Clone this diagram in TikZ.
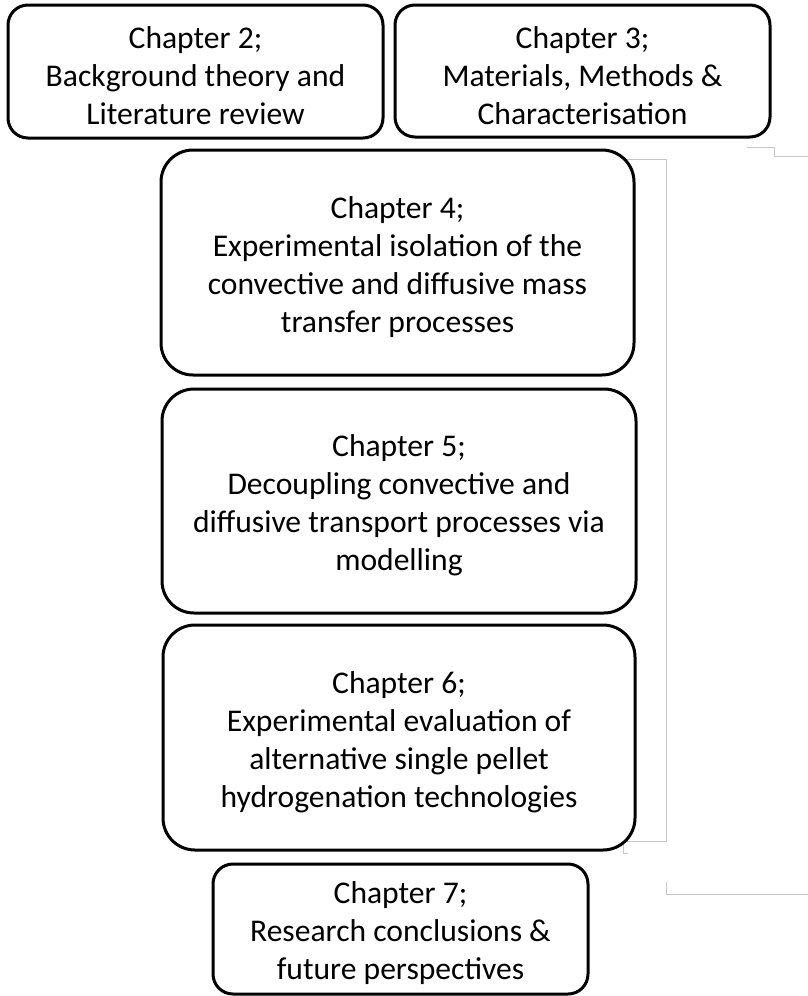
\documentclass[tikz,border=0pt]{standalone}
\usepackage{fontspec}
\setmainfont{Carlito}

\newcommand{\toppad}{\rule{0pt}{15.5pt}}

\tikzset{
  chapbox/.style={draw, line width=1.5pt, rounded corners=13pt, align=center, inner sep=0pt,
    font=\fontsize{15.8}{19}\selectfont},
  guide/.style={draw=gray!45, line width=0.5pt}
}

\begin{document}
\begin{tikzpicture}[x=0.5pt,y=-0.5pt]
        \useasboundingbox (0,0) rectangle (808,996);

        % thin grey guides on the right
        \draw[guide] (747,147) -- (774,147) -- (774,156) -- (808,156);
        \draw[guide] (624,159) -- (666,159) -- (666,841) -- (623,841) -- (623,853) -- (628,853);
        \draw[guide] (666,882) -- (666,894) -- (808,894);

        \node[chapbox, rounded corners=10pt, minimum width=187.5pt, minimum height=66.5pt] (ch2) at (195.5,71.5)
            {\toppad Chapter 2;\\Background theory and\\Literature review};
        \node[chapbox, rounded corners=10pt, minimum width=187.5pt, minimum height=66pt] (ch3) at (582.5,71)
            {\toppad Chapter 3;\\Materials, Methods \&\\Characterisation};
        \node[chapbox, rounded corners=16pt, minimum width=236.5pt, minimum height=112.5pt] (ch4) at (397.5,262.5)
            {\toppad Chapter 4;\\Experimental isolation of the\\convective and diffusive mass\\transfer processes};
        \node[chapbox, rounded corners=16pt, minimum width=237pt, minimum height=112pt] (ch5) at (399,501)
            {\toppad Chapter 5;\\Decoupling convective and\\diffusive transport processes via\\modelling};
        \node[chapbox, rounded corners=16pt, minimum width=236pt, minimum height=112.5pt] (ch6) at (399,737.5)
            {\toppad Chapter 6;\\Experimental evaluation of\\alternative single pellet\\hydrogenation technologies};
        \node[chapbox, rounded corners=10pt, minimum width=187.5pt, minimum height=65pt] (ch7) at (400.5,929)
            {\toppad Chapter 7;\\Research conclusions \&\\future perspectives};
    \end{tikzpicture}
\end{document}
